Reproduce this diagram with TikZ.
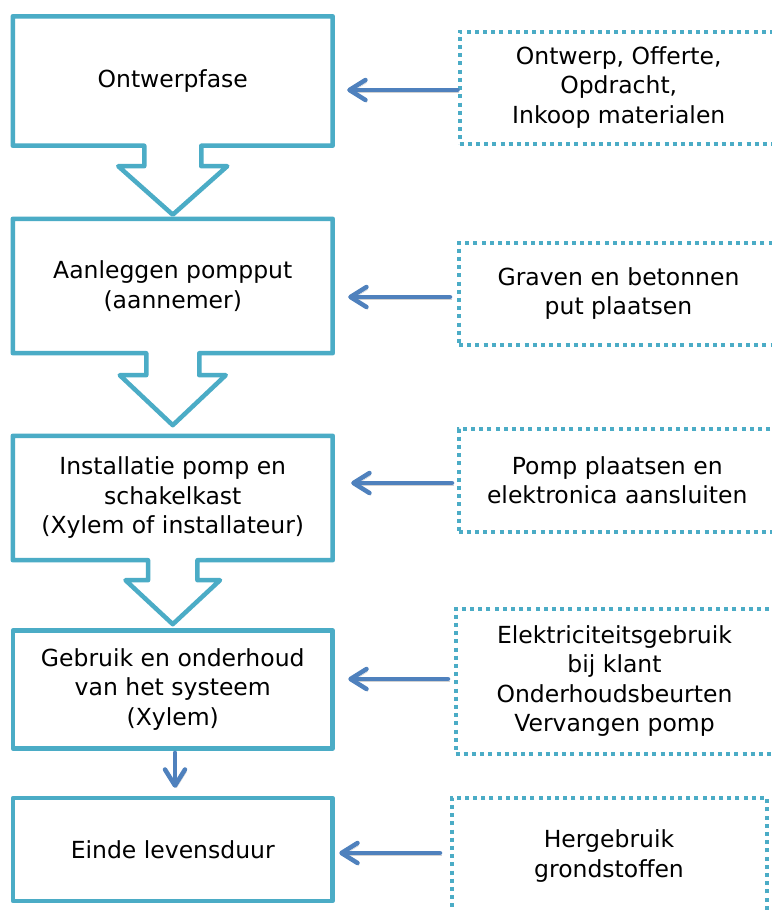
\documentclass[tikz,border=0pt]{standalone}
\usepackage{fontspec}
\setmainfont{DejaVu Sans}
\usetikzlibrary{arrows.meta,calc}
\definecolor{cyanline}{HTML}{4BACC6}
\definecolor{bluearrow}{HTML}{4F81BD}
\begin{document}
\begin{tikzpicture}[x=1pt,y=-1pt,
  every node/.style={font=\fontsize{23.5}{29.5}\selectfont, align=center, inner sep=0pt},
  stage/.style={rectangle, minimum width=319.5pt},
  stagebox/.style={stage, draw=cyanline, line width=4.5pt, line join=round},
  outline/.style={draw=cyanline, line width=4.5pt, line join=round},
  infobox/.style={rectangle, draw=cyanline, line width=4pt, dash pattern=on 4pt off 4.2pt},
  conn/.style={draw=bluearrow, line width=4.5pt, line cap=round,
    -{Straight Barb[length=16pt,width=20pt,round]},
    preaction={draw=black, opacity=.18, transform canvas={shift={(1.5pt,-2.5pt)}}}}
]
\useasboundingbox (0,0) rectangle (771,910);
\fill[white] (0,0) rectangle (771,910);

% main stages
\node[stage, minimum height=129pt] (b1) at (172.75,81) {Ontwerpfase};
\node[stage, minimum height=134pt] (b2) at (172.75,286) {Aanleggen pompput\\(aannemer)};
\node[stage, minimum height=124pt] (b3) at (172.75,498) {Installatie pomp en\\schakelkast\\(Xylem of installateur)};
\node[stagebox, minimum height=118pt] (b4) at (172.75,689.5) {Gebruik en onderhoud\\van het systeem\\(Xylem)};
\node[stagebox, minimum height=103pt] (b5) at (172.75,849.5) {Einde levensduur};

% box outlines with block arrows
\draw[outline] (b1.south west) -- (b1.north west) -- (b1.north east) -- (b1.south east)
  -- ($(b1.south)+(28.5,0)$) -- ($(b1.south)+(28.5,20.5)$) -- ($(b1.south)+(54.5,20.5)$)
  -- ($(b1.south)+(0,69)$) -- ($(b1.south)+(-54.5,20.5)$) -- ($(b1.south)+(-28.5,20.5)$)
  -- ($(b1.south)+(-28.5,0)$) -- cycle;
\draw[outline] (b2.south west) -- (b2.north west) -- (b2.north east) -- (b2.south east)
  -- ($(b2.south)+(26.5,0)$) -- ($(b2.south)+(26.5,22)$) -- ($(b2.south)+(53,22)$)
  -- ($(b2.south)+(0,72)$) -- ($(b2.south)+(-53,22)$) -- ($(b2.south)+(-26.5,22)$)
  -- ($(b2.south)+(-26.5,0)$) -- cycle;
\draw[outline] (b3.south west) -- (b3.north west) -- (b3.north east) -- (b3.south east)
  -- ($(b3.south)+(24.7,0)$) -- ($(b3.south)+(24.7,20)$) -- ($(b3.south)+(47.3,20)$)
  -- ($(b3.south)+(0,64)$) -- ($(b3.south)+(-47.3,20)$) -- ($(b3.south)+(-24.7,20)$)
  -- ($(b3.south)+(-24.7,0)$) -- cycle;

% info boxes
\node[infobox, minimum width=318.5pt, minimum height=112pt] (d1) at (618.75,87.5) {Ontwerp, Offerte,\\Opdracht,\\Inkoop materialen};
\node[infobox, minimum width=319pt, minimum height=102pt] (d2) at (618.5,293.5) {Graven en betonnen\\put plaatsen};
\node[infobox, minimum width=317.5pt, minimum height=103pt] (d3) at (617.25,480) {Pomp plaatsen en\\elektronica aansluiten};
\node[infobox, minimum width=318pt, minimum height=145pt] (d4) at (614.5,681) {Elektriciteitsgebruik\\bij klant\\Onderhoudsbeurten\\Vervangen pomp};
\node[infobox, minimum width=315pt, minimum height=117pt] (d5) at (609,856) {Hergebruik\\grondstoffen};

% connectors
\draw[conn, shorten <=0pt, shorten >=14.5pt] ([yshift=-2.5pt]d1.west) -- ([yshift=-2.5pt]d1.west -| b1.east);
\draw[conn, shorten <=7pt, shorten >=15.5pt] ([yshift=-3.5pt]d2.west) -- ([yshift=-3.5pt]d2.west -| b2.east);
\draw[conn, shorten <=4.5pt, shorten >=18.5pt] ([yshift=-3pt]d3.west) -- ([yshift=-3pt]d3.west -| b3.east);
\draw[conn, shorten <=5.5pt, shorten >=13.5pt] ([yshift=2pt]d4.west) -- ([yshift=2pt]d4.west -| b4.east);
\draw[conn, shorten <=9.5pt, shorten >=4.5pt] ([yshift=3pt]d5.west) -- ([yshift=3pt]d5.west -| b5.east);
\draw[conn, shorten <=2pt, shorten >=8pt] ([xshift=2.25pt]b4.south) -- ([xshift=2.25pt]b5.north);
\end{tikzpicture}
\end{document}
